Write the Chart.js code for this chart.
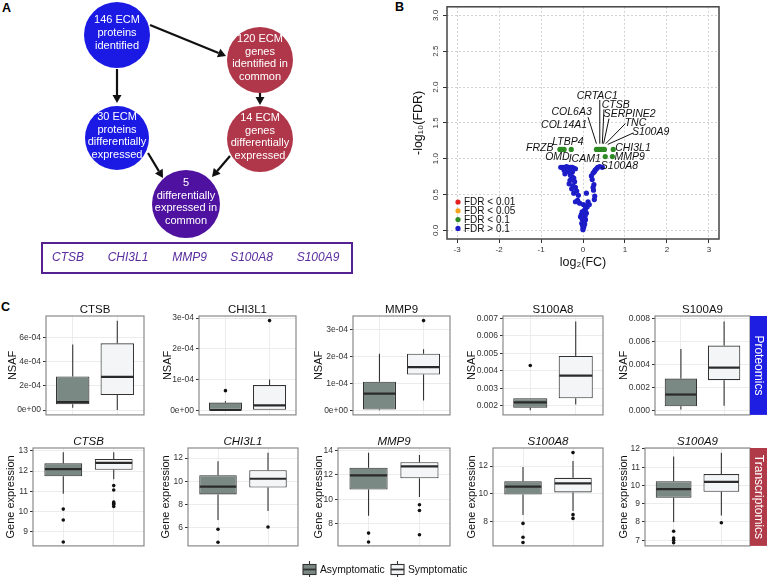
<!DOCTYPE html>
<html>
<head>
<meta charset="utf-8">
<script src="https://cdn.jsdelivr.net/npm/chart.js@4.4.1/dist/chart.umd.min.js"></script>
<style>
  body { margin: 0; background: #fff; width: 768px; height: 579px; position: relative; overflow: hidden;
         font-family: 'Liberation Sans', Arial, sans-serif; }
  canvas { position: absolute; }
  .tag { position: absolute; font-weight: bold; font-size: 12.5px; line-height: 12.5px; color: #000; }
</style>
</head>
<body>
<div class="tag" style="left:2px;top:2px">A</div>
<div class="tag" style="left:395px;top:1px">B</div>
<div class="tag" style="left:1px;top:301px">C</div>
<script>
// ---------- panel A: flow diagram ----------
const flowLabels = [
  ['146 ECM', 'proteins', 'identified'],
  ['120 ECM', 'genes', 'identified in', 'common'],
  ['30 ECM', 'proteins', 'differentially', 'expressed'],
  ['14 ECM', 'genes', 'differentially', 'expressed'],
  ['5', 'differentially', 'expressed in', 'common']
];
const flowColors = ['#1a1ae4', '#b0364a', '#1a1ae4', '#b0364a', '#4f12a0'];
const commonGenes = ['CTSB', 'CHI3L1', 'MMP9', 'S100A8', 'S100A9'];

// ---------- panel B: volcano plot ----------
const fcTicks = [-3, -2, -1, 0, 1, 2, 3];
const fdrTicks = [0, 0.5, 1, 1.5, 2, 2.5, 3];
const fdrLegend = ['FDR < 0.01', 'FDR < 0.05', 'FDR < 0.1', 'FDR > 0.1'];
const fdrColors = ['#e42020', '#f5a31a', '#2e8a22', '#1c1cc8'];
const greenFC  = [-0.55, -0.50, -0.45, -0.28, 0.32, 0.36, 0.40, 0.44, 0.48, 0.51, 0.72, 0.53, 0.70];
const greenFDR = [1.13, 1.13, 1.13, 1.13, 1.13, 1.13, 1.13, 1.13, 1.13, 1.13, 1.13, 1.03, 1.03];
const blueFC  = [-0.53, -0.48, -0.43, -0.39, -0.35, -0.30, -0.26, -0.22, -0.18, -0.45, -0.41, -0.34, -0.25,
                 -0.43, -0.30, -0.26, -0.22, -0.31, -0.20, -0.33, -0.24, -0.18, -0.27, -0.15, -0.22, 0.08,
                 -0.11, -0.13, -0.18, -0.08, 0.01, 0.06, 0.10, 0.06, 0.03, -0.02, 0.08, -0.04, 0.05, -0.06,
                 -0.02, 0.06, 0.02, -0.03, 0.04, -0.01, 0.02, 0.00, 0.00,
                 0.35, 0.40, 0.46, 0.32, 0.29, 0.27, 0.24, 0.20, 0.22, 0.26, 0.24, 0.25, 0.28, 0.27, 0.12, 0.15];
const blueFDR = [0.88, 0.88, 0.88, 0.89, 0.88, 0.88, 0.88, 0.87, 0.86, 0.84, 0.82, 0.82, 0.82,
                 0.79, 0.77, 0.75, 0.73, 0.70, 0.68, 0.65, 0.62, 0.60, 0.58, 0.55, 0.52, 0.52,
                 0.49, 0.42, 0.40, 0.38, 0.36, 0.34, 0.33, 0.30, 0.28, 0.26, 0.24, 0.22, 0.20, 0.19,
                 0.16, 0.15, 0.12, 0.10, 0.09, 0.07, 0.05, 0.03, 0.01,
                 0.88, 0.89, 0.88, 0.86, 0.84, 0.82, 0.80, 0.76, 0.71, 0.64, 0.60, 0.56, 0.48, 0.43, 0.40, 0.36];
const geneNames = ['CRTAC1', 'CTSB', 'COL6A3', 'SERPINE2', 'COL14A1', 'TNC', 'S100A9',
                   'LTBP4', 'FRZB', 'CHI3L1', 'OMD', 'ICAM1', 'MMP9', 'S100A8'];
const labelFC  = [0.34, 0.78, -0.27, 1.11, -0.45, 1.25, 1.61, -0.36, -1.03, 1.19, -0.61, 0.04, 1.11, 0.87];
const labelFDR = [1.88, 1.75, 1.65, 1.62, 1.47, 1.50, 1.37, 1.23, 1.15, 1.15, 1.02, 1.00, 1.03, 0.90];
// leader lines: [fc1, fdr1, fc2, fdr2]
const leaders = [[0.40, 1.82, 0.40, 1.21], [0.50, 1.69, 0.46, 1.21], [0.12, 1.58, 0.32, 1.21],
                 [0.62, 1.56, 0.49, 1.21], [1.01, 1.49, 0.54, 1.21], [1.20, 1.36, 0.59, 1.20]];

// ---------- panel C: box plots [low whisker, q1, median, q3, high whisker] ----------
const groups = ['Asymptomatic', 'Symptomatic'];
const genes = ['CTSB', 'CHI3L1', 'MMP9', 'S100A8', 'S100A9'];

const protStats = [
  [[0.19e-4, 0.47e-4, 0.66e-4, 2.77e-4, 5.4e-4], [0, 1.23e-4, 2.74e-4, 5.5e-4, 7.35e-4]],
  [[0, 0, 0.01e-4, 0.25e-4, 0.30e-4], [0, 0, 0.16e-4, 0.82e-4, 1.0e-4]],
  [[0, 0.03e-4, 0.62e-4, 1.06e-4, 2.1e-4], [0.36e-4, 1.33e-4, 1.6e-4, 2.1e-4, 2.27e-4]],
  [[0.00174, 0.00189, 0.00219, 0.00243, 0.00243], [0.00207, 0.00243, 0.00372, 0.00485, 0.00682]],
  [[0.00008, 0.00035, 0.00137, 0.00276, 0.00533], [0.0004, 0.00262, 0.00371, 0.00563, 0.00773]]
];
const protOutliers = [
  [[], []],
  [[0.64e-4], [2.92e-4]],
  [[], [3.33e-4]],
  [[0.0043], []],
  [[], []]
];
const protRange = [[-0.4e-4, 7.75e-4], [-0.15e-4, 3.07e-4], [-0.17e-4, 3.5e-4], [0.00148, 0.00713], [-0.0004, 0.0082]];
const protTicks = [
  [0, 2e-4, 4e-4, 6e-4], [0, 1e-4, 2e-4, 3e-4], [0, 1e-4, 2e-4, 3e-4],
  [0.002, 0.003, 0.004, 0.005, 0.006, 0.007], [0, 0.002, 0.004, 0.006, 0.008]
];
const protTickLabels = [
  ['0e+00', '2e-04', '4e-04', '6e-04'], ['0e+00', '1e-04', '2e-04', '3e-04'], ['0e+00', '1e-04', '2e-04', '3e-04'],
  ['0.002', '0.003', '0.004', '0.005', '0.006', '0.007'], ['0.000', '0.002', '0.004', '0.006', '0.008']
];

const transStats = [
  [[10.88, 11.74, 12.1, 12.38, 12.93], [11.6, 12.06, 12.4, 12.6, 12.93]],
  [[6.63, 8.85, 9.53, 10.52, 11.72], [7.4, 9.45, 10.21, 10.95, 12.46]],
  [[8.65, 10.8, 11.97, 12.6, 13.82], [10.2, 11.72, 12.7, 13.05, 13.64]],
  [[8.47, 9.95, 10.52, 10.9, 11.93], [8.77, 10.1, 10.75, 11.15, 12.36]],
  [[8.0, 9.32, 9.8, 10.23, 11.58], [8.36, 9.65, 10.19, 10.62, 11.79]]
];
const transOutliers = [
  [[10.12, 9.58, 8.49], [11.28, 11.06, 10.47, 10.4, 10.35, 10.25]],
  [[5.83, 4.7], [6.02]],
  [[7.23, 6.5], [9.55, 9.08, 7.1]],
  [[7.87, 6.87, 6.5], [12.97, 8.5, 8.23]],
  [[7.49, 7.12, 7.0, 6.86], [7.96]]
];
const transRange = [[8.3, 13.14], [4.38, 12.88], [6.18, 14.21], [6.25, 13.3], [6.69, 12.05]];
const transTicks = [[9, 10, 11, 12, 13], [6, 8, 10, 12], [8, 10, 12, 14], [8, 10, 12], [7, 8, 9, 10, 11, 12]];
const transTickLabels = transTicks.map(t => t.map(String));

const asymFill = '#7b8985';
const symFill = '#f4f5f7';

// ---------- layout ----------
const FONT = "'Liberation Sans', Arial, sans-serif";
const flowNodes = [[117, 35], [260, 60], [117, 138], [260, 139], [186, 204]];
const flowArrows = [[150, 25, 226, 56], [117, 69, 117, 103], [260, 93, 260, 105], [148, 153, 163, 178], [230, 156, 212, 177]];
const geneBox = [42, 243, 352, 273];
const geneX = [68, 128, 189.5, 251.5, 318];
const protRow = { top: 316, bottom: 421 };
const transRow = { top: 448, bottom: 552 };
const protCols = [
  { left: 46, right: 144, titleX: 13 }, { left: 199, right: 296, titleX: 168 }, { left: 353, right: 450, titleX: 319 },
  { left: 503, right: 603, titleX: 472 }, { left: 655, right: 750, titleX: 624 }
];
const transCols = [
  { left: 33, right: 144, titleX: 11 }, { left: 188, right: 298, titleX: 166 }, { left: 338, right: 450, titleX: 319 },
  { left: 493, right: 603, titleX: 472 }, { left: 645, right: 750, titleX: 624 }
];

Chart.defaults.font.family = FONT;
Chart.defaults.color = '#333';
Chart.defaults.animation = false;
Chart.defaults.events = [];
Chart.defaults.plugins.legend.display = false;
Chart.defaults.plugins.tooltip.enabled = false;
Chart.defaults.layout.autoPadding = false;

function addCanvas(left, top, width, height) {
  const c = document.createElement('canvas');
  c.width = width; c.height = height;
  c.style.left = left + 'px'; c.style.top = top + 'px';
  c.style.width = width + 'px'; c.style.height = height + 'px';
  document.body.appendChild(c);
  return c;
}

// ---------- panel A ----------
const flowPlugin = {
  id: 'flowDecor',
  beforeDatasetsDraw(chart) {
    const { ctx, scales: { x, y } } = chart;
    ctx.save();
    ctx.strokeStyle = '#111'; ctx.fillStyle = '#111'; ctx.lineWidth = 2.2;
    flowArrows.forEach(([x1, y1, x2, y2]) => {
      const ax = x.getPixelForValue(x1), ay = y.getPixelForValue(y1);
      const bx = x.getPixelForValue(x2), by = y.getPixelForValue(y2);
      const ang = Math.atan2(by - ay, bx - ax);
      const hl = 8, hw = 4.5;
      const cx = bx - hl * Math.cos(ang), cy = by - hl * Math.sin(ang);
      ctx.beginPath(); ctx.moveTo(ax, ay); ctx.lineTo(cx, cy); ctx.stroke();
      ctx.beginPath(); ctx.moveTo(bx, by);
      ctx.lineTo(cx + hw * Math.sin(ang), cy - hw * Math.cos(ang));
      ctx.lineTo(cx - hw * Math.sin(ang), cy + hw * Math.cos(ang));
      ctx.closePath(); ctx.fill();
    });
    ctx.restore();
  },
  afterDatasetsDraw(chart) {
    const { ctx, scales: { x, y } } = chart;
    ctx.save();
    ctx.fillStyle = '#fff';
    ctx.font = '11px ' + FONT;
    ctx.textAlign = 'center'; ctx.textBaseline = 'middle';
    chart.getDatasetMeta(0).data.forEach((pt, i) => {
      const lines = flowLabels[i];
      const y0 = pt.y - 2 - (lines.length - 1) * 12.7 / 2;
      lines.forEach((t, j) => ctx.fillText(t, pt.x, y0 + j * 12.7));
    });
    // box with the five shared genes
    const bx1 = x.getPixelForValue(geneBox[0]), by1 = y.getPixelForValue(geneBox[1]);
    const bx2 = x.getPixelForValue(geneBox[2]), by2 = y.getPixelForValue(geneBox[3]);
    ctx.strokeStyle = '#55208f'; ctx.lineWidth = 2;
    ctx.strokeRect(bx1, by1, bx2 - bx1, by2 - by1);
    ctx.fillStyle = '#5a2c9e';
    ctx.font = 'italic 12px ' + FONT;
    commonGenes.forEach((g, i) => ctx.fillText(g, x.getPixelForValue(geneX[i]), (by1 + by2) / 2));
    ctx.restore();
  }
};

new Chart(addCanvas(0, 0, 380, 280), {
  type: 'scatter',
  data: {
    datasets: [{
      data: flowNodes.map(([px, py]) => ({ x: px, y: py })),
      backgroundColor: flowColors,
      pointRadius: [33, 33, 32, 33, 34],
      borderWidth: 0,
      clip: false
    }]
  },
  options: {
    responsive: false, devicePixelRatio: 1,
    layout: { autoPadding: false, padding: 0 },
    scales: {
      x: { type: 'linear', min: 0, max: 380, display: false },
      y: { type: 'linear', min: 0, max: 280, reverse: true, display: false }
    }
  },
  plugins: [flowPlugin]
});

// ---------- panel B ----------
const volcanoPlugin = {
  id: 'volcanoDecor',
  afterDraw(chart) {
    const { ctx, chartArea: a, scales: { x, y } } = chart;
    ctx.save();
    ctx.strokeStyle = '#444'; ctx.lineWidth = 1.5;
    ctx.strokeRect(a.left, a.top, a.right - a.left, a.bottom - a.top);
    ctx.strokeStyle = '#111'; ctx.lineWidth = 1;
    leaders.forEach(([x1, y1, x2, y2]) => {
      ctx.beginPath();
      ctx.moveTo(x.getPixelForValue(x1), y.getPixelForValue(y1));
      ctx.lineTo(x.getPixelForValue(x2), y.getPixelForValue(y2));
      ctx.stroke();
    });
    ctx.fillStyle = '#111';
    ctx.font = 'italic 10.5px ' + FONT;
    ctx.textAlign = 'center'; ctx.textBaseline = 'middle';
    geneNames.forEach((g, i) => ctx.fillText(g, x.getPixelForValue(labelFC[i]), y.getPixelForValue(labelFDR[i])));
    // legend
    ctx.font = '10px ' + FONT;
    ctx.textAlign = 'left';
    fdrLegend.forEach((t, i) => {
      const ly = a.bottom - 37 + i * 8.8;
      ctx.fillStyle = fdrColors[i];
      ctx.beginPath(); ctx.arc(a.left + 11, ly, 2.6, 0, Math.PI * 2); ctx.fill();
      ctx.fillStyle = '#111';
      ctx.fillText(t, a.left + 17, ly + 0.5);
    });
    ctx.restore();
  }
};

new Chart(addCanvas(409, 0, 321, 270), {
  type: 'scatter',
  data: {
    datasets: [
      { label: fdrLegend[0], data: [], backgroundColor: fdrColors[0] },
      { label: fdrLegend[1], data: [], backgroundColor: fdrColors[1] },
      { label: fdrLegend[2], data: greenFC.map((v, i) => ({ x: v, y: greenFDR[i] })), backgroundColor: fdrColors[2] },
      { label: fdrLegend[3], data: blueFC.map((v, i) => ({ x: v, y: blueFDR[i] })), backgroundColor: fdrColors[3] }
    ]
  },
  options: {
    responsive: false, devicePixelRatio: 1,
    layout: { autoPadding: false, padding: { top: 3, right: 11, bottom: 0, left: 0 } },
    elements: { point: { radius: 2.6, borderWidth: 0 } },
    scales: {
      x: {
        type: 'linear', min: -3.24, max: 3.24,
        afterBuildTicks: s => { s.ticks = fcTicks.map(v => ({ value: v })); },
        afterFit: s => { s.height = 31; },
        grid: { color: '#d2d2d2', tickColor: '#333', tickLength: 4, tickBorderDash: [] },
        border: { display: false, dash: [2, 2] },
        ticks: { font: { size: 8 }, color: '#333', padding: 2, maxRotation: 0, autoSkip: false, callback: v => String(v) },
        title: { display: true, text: 'log₂(FC)', font: { size: 12.5 }, color: '#111', padding: 0 }
      },
      y: {
        type: 'linear', min: -0.12, max: 3.12,
        afterBuildTicks: s => { s.ticks = fdrTicks.map(v => ({ value: v })); },
        afterFit: s => { s.width = 38; },
        grid: { color: '#d2d2d2', tickColor: '#333', tickLength: 4, tickBorderDash: [] },
        border: { display: false, dash: [2, 2] },
        ticks: { font: { size: 8 }, color: '#333', padding: 2, minRotation: 90, maxRotation: 90, crossAlign: 'center',
                 autoSkip: false, callback: v => v.toFixed(1) },
        title: { display: true, text: '-log₁₀(FDR)', font: { size: 12.5 }, color: '#111', padding: { top: 2, bottom: 0 } }
      }
    }
  },
  plugins: [volcanoPlugin]
});

// ---------- panel C ----------
function makeBoxChart(col, row, title, italic, yLabel, stats, outliers, range, ticks, tickLabels, strip) {
  const left = col.titleX - 7;
  const top = row.top - 22;
  const right = strip ? 768 : col.right + 2;
  const width = right - left;
  const height = row.bottom + 1 - top;

  const plugin = {
    id: 'boxDecor',
    beforeDatasetsDraw(chart) {
      const { ctx, scales: { y } } = chart;
      const bars = chart.getDatasetMeta(0).data;
      ctx.save();
      ctx.strokeStyle = '#333'; ctx.lineWidth = 1.1;
      stats.forEach((s, i) => {
        const bx = bars[i].x;
        ctx.beginPath();
        ctx.moveTo(bx, y.getPixelForValue(s[0])); ctx.lineTo(bx, y.getPixelForValue(s[1]));
        ctx.moveTo(bx, y.getPixelForValue(s[3])); ctx.lineTo(bx, y.getPixelForValue(s[4]));
        ctx.stroke();
      });
      ctx.restore();
    },
    afterDatasetsDraw(chart) {
      const { ctx, chartArea: a, scales: { y } } = chart;
      const bars = chart.getDatasetMeta(0).data;
      ctx.save();
      ctx.strokeStyle = '#2a2a2a'; ctx.lineWidth = 2.2;
      stats.forEach((s, i) => {
        const b = bars[i];
        const my = y.getPixelForValue(s[2]);
        ctx.beginPath(); ctx.moveTo(b.x - b.width / 2 + 0.5, my); ctx.lineTo(b.x + b.width / 2 - 0.5, my); ctx.stroke();
      });
      ctx.strokeStyle = '#8a8a8a'; ctx.lineWidth = 1.2;
      ctx.strokeRect(a.left, a.top, a.right - a.left, a.bottom - a.top);
      ctx.fillStyle = '#111';
      ctx.font = (italic ? 'italic ' : '') + '11.5px ' + FONT;
      ctx.textAlign = 'center'; ctx.textBaseline = 'middle';
      ctx.fillText(title, (a.left + a.right) / 2, a.top - 6.5);
      if (strip) {
        ctx.fillStyle = strip.color;
        ctx.fillRect(a.right, a.top, 17, a.bottom - a.top);
        ctx.translate(a.right + 8.5, (a.top + a.bottom) / 2);
        ctx.rotate(Math.PI / 2);
        ctx.fillStyle = '#fff';
        ctx.font = '12px ' + FONT;
        ctx.fillText(strip.text, 0, 0);
      }
      ctx.restore();
    }
  };

  const outlierPoints = [];
  outliers.forEach((list, g) => list.forEach(v => outlierPoints.push({ x: g + 1, y: v })));

  return new Chart(addCanvas(left, top, width, height), {
    type: 'bar',
    data: {
      datasets: [
        {
          label: 'box',
          data: stats.map((s, g) => ({ x: g + 1, y: [s[1], s[3]] })),
          backgroundColor: [asymFill, symFill],
          borderColor: '#333', borderWidth: 1.1, borderSkipped: false,
          barPercentage: 0.75, categoryPercentage: 1
        },
        {
          type: 'scatter', label: 'outliers', data: outlierPoints,
          pointRadius: 1.8, pointBackgroundColor: '#111', pointBorderWidth: 0
        }
      ]
    },
    options: {
      responsive: false, devicePixelRatio: 1,
      layout: { autoPadding: false, padding: { top: 22, right: right - col.right, bottom: 1, left: 0 } },
      scales: {
        x: {
          type: 'linear', min: 0.4, max: 2.6, offset: false,
          afterBuildTicks: s => { s.ticks = groups.map((g, i) => ({ value: i + 1 })); },
          afterFit: s => { s.height = 0; },
          grid: { offset: false, color: '#ececec', drawTicks: false },
          border: { display: false },
          ticks: { display: false }
        },
        y: {
          type: 'linear', min: range[0], max: range[1],
          afterBuildTicks: s => { s.ticks = ticks.map(v => ({ value: v })); },
          afterFit: s => { s.width = col.left - left; },
          grid: { color: '#ececec', tickColor: '#333', tickLength: 3 },
          border: { display: false },
          ticks: { font: { size: 8.5 }, color: '#333', padding: 2, autoSkip: false, callback: (v, i) => tickLabels[i] },
          title: { display: true, text: yLabel, font: { size: 11 }, color: '#111', padding: 0 }
        }
      }
    },
    plugins: [plugin]
  });
}

genes.forEach((g, i) => {
  makeBoxChart(protCols[i], protRow, g, false, 'NSAF', protStats[i], protOutliers[i], protRange[i],
    protTicks[i], protTickLabels[i], i === 4 ? { text: 'Proteomics', color: '#1e1ee2' } : null);
  makeBoxChart(transCols[i], transRow, g, true, 'Gene expression', transStats[i], transOutliers[i], transRange[i],
    transTicks[i], transTickLabels[i], i === 4 ? { text: 'Transcriptomics', color: '#b03a48' } : null);
});

// ---------- legend for panel C ----------
(function drawLegend() {
  const c = addCanvas(296, 558, 190, 20);
  const ctx = c.getContext('2d');
  const items = [[7, asymFill, groups[0]], [95, symFill, groups[1]]];
  ctx.font = '10.3px ' + FONT;
  ctx.textBaseline = 'middle';
  items.forEach(([ix, fill, text]) => {
    ctx.strokeStyle = '#333'; ctx.lineWidth = 1.1;
    ctx.beginPath(); ctx.moveTo(ix + 6.5, 3); ctx.lineTo(ix + 6.5, 19); ctx.stroke();
    ctx.fillStyle = fill;
    ctx.fillRect(ix, 6.5, 13, 10);
    ctx.strokeRect(ix, 6.5, 13, 10);
    ctx.lineWidth = 1.8;
    ctx.beginPath(); ctx.moveTo(ix, 11.5); ctx.lineTo(ix + 13, 11.5); ctx.stroke();
    ctx.fillStyle = '#111';
    ctx.fillText(text, ix + 17, 12);
  });
})();
</script>
</body>
</html>
